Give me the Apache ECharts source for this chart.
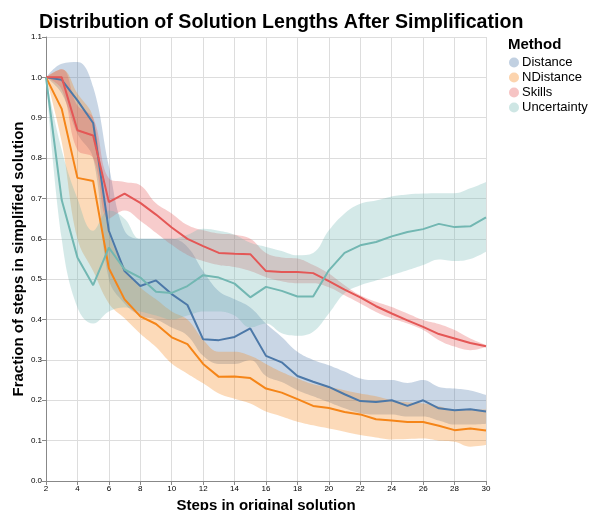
<!DOCTYPE html>
<html>
<head>
<meta charset="utf-8">
<script src="https://cdn.jsdelivr.net/npm/echarts@6/dist/echarts.min.js"></script>
<style>
  html, body { margin: 0; padding: 0; background: #fff; }
  #chart { width: 589px; height: 510px; }
</style>
</head>
<body>
<div id="chart"></div>
<script>
// values
var steps = ['2', '3', '4', '5', '6', '7', '8', '9', '10', '11', '12', '13', '14', '15', '16', '17', '18', '19', '20', '21', '22', '23', '24', '25', '26', '27', '28', '29', '30'];

var distance = [1.0, 0.994, 0.943, 0.887, 0.62, 0.52, 0.483, 0.497, 0.463, 0.436, 0.351, 0.349, 0.357, 0.378, 0.31, 0.294, 0.26, 0.246, 0.233, 0.215, 0.198, 0.196, 0.2, 0.186, 0.2, 0.18, 0.175, 0.178, 0.172];
var distanceLow = [1.0, 0.96, 0.86, 0.8, 0.5, 0.44, 0.41, 0.4, 0.38, 0.36, 0.31, 0.29, 0.29, 0.3, 0.26, 0.245, 0.225, 0.21, 0.195, 0.18, 0.168, 0.165, 0.165, 0.16, 0.16, 0.15, 0.14, 0.14, 0.142];
var distanceHigh = [1.0, 1.034, 1.038, 0.976, 0.78, 0.62, 0.6, 0.6, 0.6, 0.58, 0.52, 0.47, 0.45, 0.43, 0.39, 0.357, 0.32, 0.3, 0.287, 0.271, 0.254, 0.25, 0.25, 0.243, 0.25, 0.233, 0.229, 0.224, 0.213];

var ndistance = [1.0, 0.922, 0.751, 0.743, 0.527, 0.45, 0.408, 0.389, 0.356, 0.339, 0.29, 0.258, 0.259, 0.255, 0.229, 0.219, 0.203, 0.186, 0.181, 0.171, 0.165, 0.153, 0.15, 0.146, 0.146, 0.137, 0.126, 0.13, 0.125];
var ndistanceLow = [1.0, 0.84, 0.6, 0.52, 0.44, 0.403, 0.365, 0.332, 0.291, 0.266, 0.242, 0.217, 0.204, 0.192, 0.172, 0.16, 0.147, 0.138, 0.13, 0.122, 0.114, 0.108, 0.103, 0.104, 0.105, 0.1, 0.097, 0.085, 0.089];
var ndistanceHigh = [1.0, 1.02, 0.96, 0.9, 0.62, 0.53, 0.48, 0.45, 0.42, 0.4, 0.35, 0.32, 0.32, 0.31, 0.29, 0.27, 0.254, 0.24, 0.233, 0.225, 0.217, 0.21, 0.2, 0.195, 0.192, 0.185, 0.176, 0.177, 0.177];

var skills = [1.0, 1.0, 0.869, 0.856, 0.691, 0.712, 0.689, 0.66, 0.628, 0.6, 0.582, 0.565, 0.563, 0.562, 0.52, 0.518, 0.518, 0.515, 0.495, 0.474, 0.455, 0.433, 0.415, 0.398, 0.382, 0.364, 0.353, 0.342, 0.334];
var skillsLow = [1.0, 0.97, 0.82, 0.8, 0.65, 0.67, 0.645, 0.615, 0.585, 0.56, 0.545, 0.535, 0.53, 0.52, 0.505, 0.495, 0.49, 0.49, 0.48, 0.46, 0.44, 0.419, 0.403, 0.39, 0.374, 0.349, 0.333, 0.324, 0.332];
var skillsHigh = [1.0, 1.02, 0.93, 0.9, 0.75, 0.741, 0.733, 0.688, 0.663, 0.634, 0.621, 0.613, 0.61, 0.6, 0.565, 0.554, 0.551, 0.535, 0.514, 0.485, 0.46, 0.444, 0.431, 0.415, 0.399, 0.389, 0.374, 0.353, 0.337];

var uncertainty = [1.0, 0.696, 0.554, 0.485, 0.578, 0.524, 0.504, 0.469, 0.466, 0.483, 0.51, 0.504, 0.489, 0.455, 0.481, 0.471, 0.457, 0.457, 0.522, 0.565, 0.584, 0.592, 0.606, 0.617, 0.624, 0.637, 0.629, 0.631, 0.653];
var uncertaintyLow = [1.0, 0.6, 0.43, 0.39, 0.42, 0.43, 0.42, 0.41, 0.4, 0.41, 0.42, 0.42, 0.41, 0.38, 0.39, 0.366, 0.36, 0.37, 0.415, 0.465, 0.485, 0.497, 0.51, 0.522, 0.535, 0.549, 0.545, 0.55, 0.568];
var uncertaintyHigh = [1.0, 0.82, 0.7, 0.62, 0.67, 0.65, 0.6, 0.6, 0.6, 0.61, 0.625, 0.62, 0.61, 0.59, 0.58, 0.57, 0.559, 0.565, 0.621, 0.663, 0.687, 0.695, 0.705, 0.71, 0.712, 0.713, 0.713, 0.725, 0.741];

var methods = ['Distance', 'NDistance', 'Skills', 'Uncertainty'];
var colors = ['#4c78a8', '#f58518', '#e45756', '#72b7b2'];
var means = [distance, ndistance, skills, uncertainty];
var lows = [distanceLow, ndistanceLow, skillsLow, uncertaintyLow];
var highs = [distanceHigh, ndistanceHigh, skillsHigh, uncertaintyHigh];

var FONT = 'Liberation Sans';

// bands: stacked pair (lower edge + width) so the fill runs between the two edges
var series = [];
methods.forEach(function (m, k) {
  var width = highs[k].map(function (h, i) { return +(h - lows[k][i]).toFixed(4); });
  series.push({
    name: m, type: 'line', stack: 'band' + k, data: lows[k],
    smooth: 0.4, symbol: 'none', silent: true,
    lineStyle: { opacity: 0 }, itemStyle: { color: colors[k] }, z: 1
  });
  series.push({
    name: m, type: 'line', stack: 'band' + k, data: width,
    smooth: 0.4, symbol: 'none', silent: true,
    lineStyle: { opacity: 0 }, itemStyle: { color: colors[k] },
    areaStyle: { color: colors[k], opacity: 0.3 }, z: 1
  });
});
methods.forEach(function (m, k) {
  series.push({
    name: m, type: 'line', data: means[k], symbol: 'none',
    lineStyle: { color: colors[k], width: 2 }, itemStyle: { color: colors[k] }, z: 3
  });
});

var chart = echarts.init(document.getElementById('chart'));
chart.setOption({
  animation: false,
  title: [{
    text: 'Distribution of Solution Lengths After Simplification',
    left: 34, top: 8,
    textStyle: { fontFamily: FONT, fontSize: 19.6, fontWeight: 'bold', color: '#000' }
  }, {
    text: 'Method',
    left: 503, top: 32,
    textStyle: { fontFamily: FONT, fontSize: 15, fontWeight: 'bold', color: '#000' }
  }],
  legend: {
    orient: 'vertical', left: 504, top: 51,
    icon: 'circle', itemWidth: 10, itemHeight: 10, itemGap: 2,
    textStyle: { fontFamily: FONT, fontSize: 13, color: '#000', padding: [0, 0, 0, -2] },
    data: methods.map(function (m, k) {
      return { name: m, itemStyle: { color: colors[k], opacity: 0.35 } };
    })
  },
  grid: { left: 46, right: 103, top: 37, bottom: 29, containLabel: false, outerBoundsMode: 'none' },
  xAxis: {
    type: 'category', data: steps, boundaryGap: false,
    name: 'Steps in original solution', nameLocation: 'middle', nameGap: 16,
    nameTextStyle: { fontFamily: FONT, fontSize: 15, fontWeight: 'bold', color: '#000' },
    axisLine: { lineStyle: { color: '#888' } },
    axisTick: { lineStyle: { color: '#888' }, length: 4, interval: 1 },
    axisLabel: { fontFamily: FONT, fontSize: 8, color: '#000', margin: 4, interval: 1 },
    splitLine: { show: true, interval: 1, lineStyle: { color: '#ddd' } }
  },
  yAxis: {
    type: 'value', min: 0, max: 1.1, interval: 0.1,
    name: 'Fraction of steps in simplified solution', nameLocation: 'middle', nameGap: 20,
    nameMoveOverlap: false,
    nameTextStyle: { fontFamily: FONT, fontSize: 15, fontWeight: 'bold', color: '#000' },
    axisLine: { show: true, lineStyle: { color: '#888' } },
    axisTick: { show: true, lineStyle: { color: '#888' }, length: 4 },
    axisLabel: { fontFamily: FONT, fontSize: 8, color: '#000', margin: 4,
      formatter: function (v) { return v.toFixed(1); } },
    splitLine: { show: true, lineStyle: { color: '#ddd' } }
  },
  series: series
});
</script>
</body>
</html>
